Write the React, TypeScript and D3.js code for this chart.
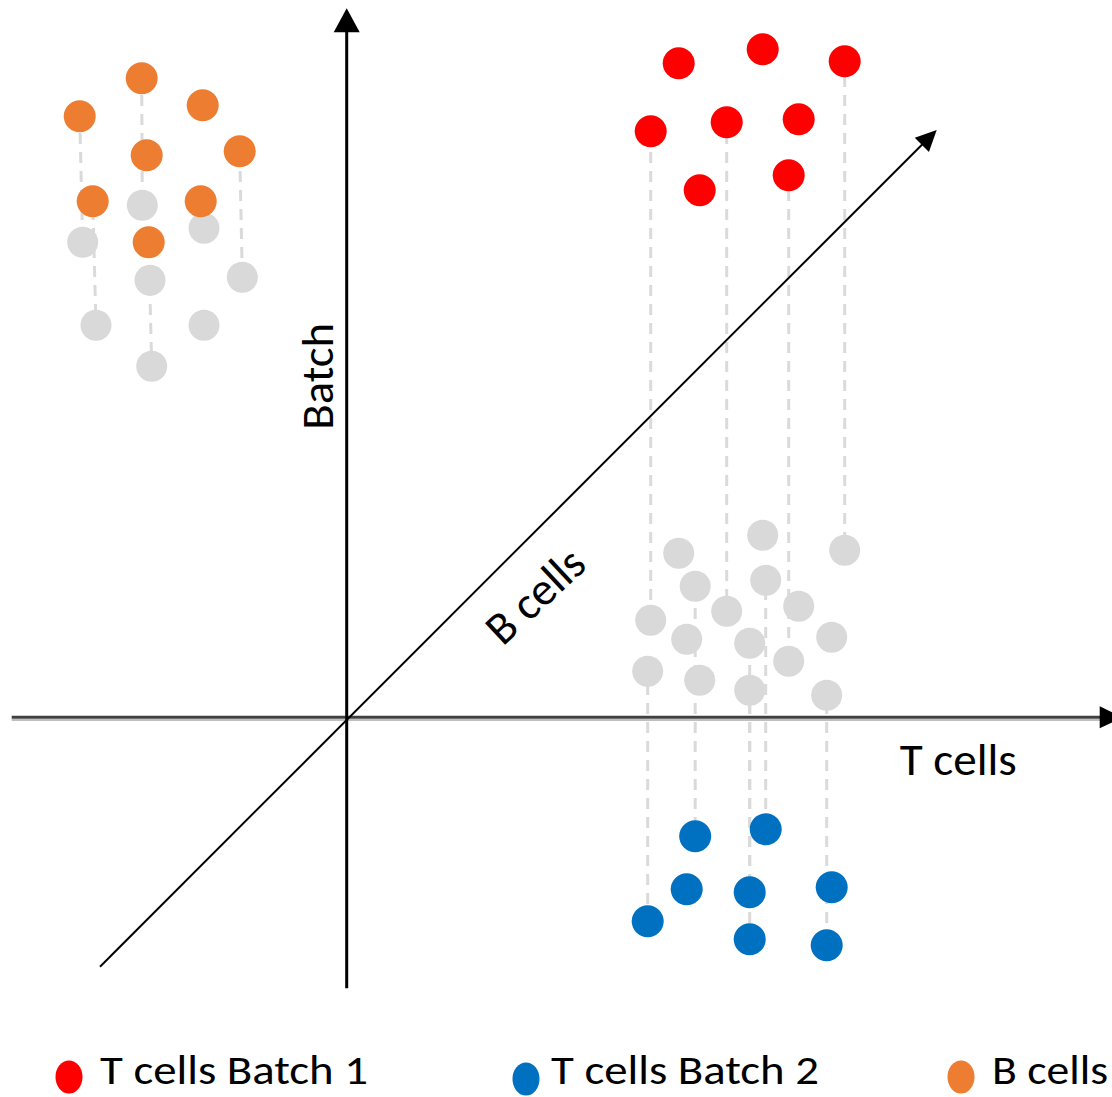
import React from "react";
import * as d3 from "d3";

// ---- data (chart units: origin at axes crossing, 1 unit = 10px) ----
// T cells batch 1 (red): [tcell, batch, projectedBatch, drawLink]
const tBatch1: [number, number, number, number][] = [
  [33.2, 65.4, 16.4, 0],
  [41.6, 66.8, 18.2, 0],
  [49.8, 65.6, 16.7, 1],
  [30.4, 58.6, 9.7, 1],
  [38.0, 59.5, 10.6, 1],
  [45.2, 59.8, 11.1, 0],
  [35.3, 52.7, 3.7, 0],
  [44.2, 54.2, 5.6, 1],
];
// T cells batch 2 (blue): [tcell, batch, projectedBatch, drawLink]
const tBatch2: [number, number, number, number][] = [
  [34.85, -11.9, 13.1, 1],
  [41.9, -11.2, 13.7, 1],
  [34.0, -17.2, 7.8, 0],
  [40.3, -17.5, 7.4, 1],
  [48.5, -17.0, 8.0, 0],
  [30.1, -20.4, 4.6, 1],
  [40.3, -22.2, 2.7, 1],
  [48.0, -22.8, 2.2, 1],
];
// B cells (orange): [x, y, projX, projY, drawLink]
const bCells: [number, number, number, number, number][] = [
  [-20.5, 63.9, -20.44, 51.2, 1],
  [-26.7, 60.1, -26.4, 47.5, 1],
  [-14.4, 61.2, -14.27, 48.9, 0],
  [-20.0, 56.2, -19.67, 43.7, 0],
  [-10.7, 56.6, -10.44, 44.0, 1],
  [-25.4, 51.6, -25.07, 39.2, 1],
  [-14.6, 51.6, -14.27, 39.2, 0],
  [-19.8, 47.5, -19.5, 35.1, 1],
];

const legendLabels = ["T cells Batch 1", "T cells Batch 2", "B cells"];
const axisLabels = { x: "T cells", y: "Batch", z: "B cells" };
// axis extents in chart units
const xAxisExtent = [-33.5, 77.6];
const yAxisExtent = [-27.1, 70.9];
const zAxisExtent: [[number, number], [number, number]] = [
  [-24.67, -24.94],
  [59.0, 58.73],
];

const COLORS = {
  red: "#FF0000",
  blue: "#0070C0",
  orange: "#ED7D31",
  gray: "#D9D9D9",
  link: "#DADADA",
};

const W = 1112;
const H = 1097;
const FONT = "Carlito, Lato, 'Open Sans', sans-serif";

const x = d3.scaleLinear().domain([0, 10]).range([346.7, 446.7]);
const y = d3.scaleLinear().domain([0, 10]).range([717.3, 617.3]);

function arrowHead(x1: number, y1: number, x2: number, y2: number, len: number, half: number) {
  const a = Math.atan2(y2 - y1, x2 - x1);
  const bx = x2 - len * Math.cos(a);
  const by = y2 - len * Math.sin(a);
  const px = -Math.sin(a) * half;
  const py = Math.cos(a) * half;
  return `M${x2},${y2}L${bx + px},${by + py}L${bx - px},${by - py}Z`;
}

export default function App() {
  const R = 16;
  const RG = 15.5;
  const DASH = 11;
  const GAP = 8;
  const PERIOD = DASH + GAP;

  const hx1 = x(xAxisExtent[0]);
  const hx2 = x(xAxisExtent[1]);
  const y0 = y(0);
  const vy1 = y(yAxisExtent[0]);
  const vy2 = y(yAxisExtent[1]);
  const x0 = x(0);
  const dx1 = x(zAxisExtent[0][0]);
  const dy1 = y(zAxisExtent[0][1]);
  const dx2 = x(zAxisExtent[1][0]);
  const dy2 = y(zAxisExtent[1][1]);

  const links: { x1: number; y1: number; x2: number; y2: number }[] = [];
  const addLink = (ax: number, ay: number, bx: number, by: number) => {
    // always draw top to bottom so overlapping dashes share the same phase
    if (ay <= by) links.push({ x1: ax, y1: ay, x2: bx, y2: by });
    else links.push({ x1: bx, y1: by, x2: ax, y2: ay });
  };
  tBatch1.forEach((d) => {
    if (d[3]) addLink(x(d[0]), y(d[1]), x(d[0]), y(d[2]));
  });
  tBatch2.forEach((d) => {
    if (d[3]) addLink(x(d[0]), y(d[1]), x(d[0]), y(d[2]));
  });
  bCells.forEach((d) => {
    if (d[4]) addLink(x(d[0]), y(d[1]), x(d[2]), y(d[3]));
  });

  const grays: [number, number][] = [
    ...tBatch1.map((d) => [d[0], d[2]] as [number, number]),
    ...tBatch2.map((d) => [d[0], d[2]] as [number, number]),
    ...bCells.map((d) => [d[2], d[3]] as [number, number]),
  ];

  const legendItems = [
    { label: legendLabels[0], color: COLORS.red, cx: 69, cy: 1077, tx: 100, len: 268 },
    { label: legendLabels[1], color: COLORS.blue, cx: 526, cy: 1079, tx: 551, len: 268 },
    { label: legendLabels[2], color: COLORS.orange, cx: 961, cy: 1077, tx: 992, len: 116 },
  ];

  return (
    <svg
      width={W}
      height={H}
      viewBox={`0 0 ${W} ${H}`}
      style={{ position: "absolute", left: 0, top: 0, background: "#fff" }}
      fontFamily={FONT}
    >
      <rect x={0} y={0} width={W} height={H} fill="#fff" />

      {/* dashed projection links */}
      <g stroke={COLORS.link} strokeWidth={3} strokeDasharray={`${DASH} ${GAP}`} fill="none">
        {links.map((l, i) => (
          <line
            key={i}
            x1={l.x1}
            y1={l.y1}
            x2={l.x2}
            y2={l.y2}
            strokeDashoffset={((l.y1 % PERIOD) + PERIOD) % PERIOD}
          />
        ))}
      </g>

      {/* horizontal axis (T cells) */}
      <line x1={hx1} y1={y0 + 2.6} x2={hx2 - 20} y2={y0 + 2.6} stroke="#BFBFBF" strokeWidth={2} />
      <line x1={hx1} y1={y0} x2={hx2 - 20} y2={y0} stroke="#404040" strokeWidth={3} />
      <path d={arrowHead(hx1, y0, hx2, y0, 23, 11)} fill="#000" />

      {/* gray projected points */}
      <g fill={COLORS.gray}>
        {grays.map((g, i) => (
          <circle key={i} cx={x(g[0])} cy={y(g[1])} r={RG} />
        ))}
      </g>

      {/* vertical axis (Batch) */}
      <line x1={x0} y1={vy1} x2={x0} y2={vy2 + 20} stroke="#000" strokeWidth={3} />
      <path d={arrowHead(x0, vy1, x0, vy2, 24, 13)} fill="#000" />

      {/* diagonal axis (B cells) */}
      <line x1={dx1} y1={dy1} x2={dx2 - 12} y2={dy2 + 12} stroke="#000" strokeWidth={2} />
      <path d={arrowHead(dx1, dy1, dx2, dy2, 21, 10)} fill="#000" />

      {/* colored points */}
      <g fill={COLORS.red}>
        {tBatch1.map((d, i) => (
          <circle key={i} cx={x(d[0])} cy={y(d[1])} r={R} />
        ))}
      </g>
      <g fill={COLORS.blue}>
        {tBatch2.map((d, i) => (
          <circle key={i} cx={x(d[0])} cy={y(d[1])} r={R} />
        ))}
      </g>
      <g fill={COLORS.orange}>
        {bCells.map((d, i) => (
          <circle key={i} cx={x(d[0])} cy={y(d[1])} r={R} />
        ))}
      </g>

      {/* axis labels */}
      <text x={x(55.3)} y={y(-5.8)} fontSize={46} fill="#000" textLength={117} lengthAdjust="spacingAndGlyphs">
        {axisLabels.x}
      </text>
      <text
        transform={`translate(${x(-1.37)},${y(34.1)}) rotate(-90)`}
        textAnchor="middle"
        fontSize={46}
        fill="#000"
        textLength={107}
        lengthAdjust="spacingAndGlyphs"
      >
        {axisLabels.y}
      </text>
      <text
        transform={`translate(${x(18.8)},${y(12.2)}) rotate(-43)`}
        textAnchor="middle"
        dominantBaseline="central"
        fontSize={46}
        fill="#000"
        textLength={117}
        lengthAdjust="spacingAndGlyphs"
      >
        {axisLabels.z}
      </text>

      {/* legend */}
      {legendItems.map((l, i) => (
        <g key={i}>
          <ellipse cx={l.cx} cy={l.cy} rx={13.5} ry={16.5} fill={l.color} />
          <text x={l.tx} y={1084} fontSize={42} fill="#000" textLength={l.len} lengthAdjust="spacingAndGlyphs">
            {l.label}
          </text>
        </g>
      ))}
    </svg>
  );
}
